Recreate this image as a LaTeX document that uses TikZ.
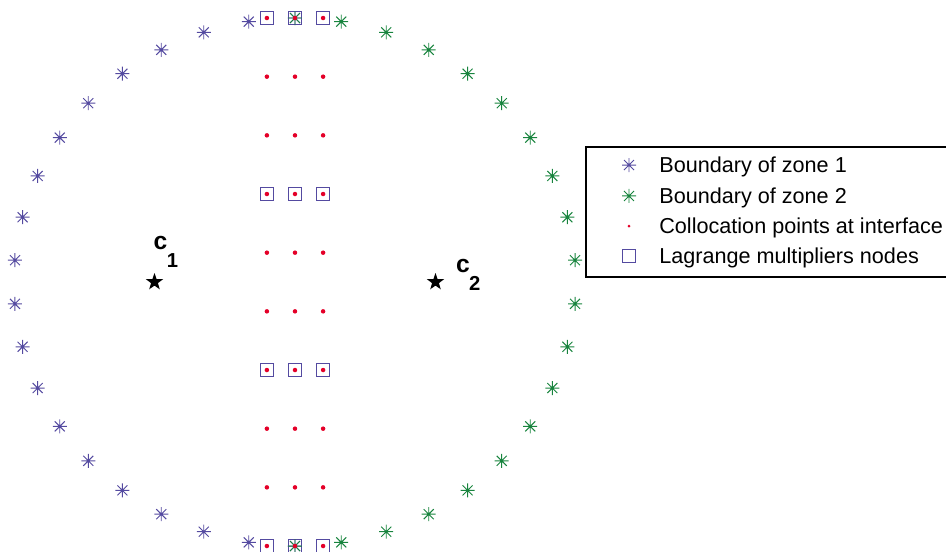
\documentclass[tikz,border=0pt]{standalone}
\usepackage{fontspec}
\setmainfont{Liberation Sans}
\usetikzlibrary{shapes.geometric}
\definecolor{zblue}{RGB}{84,74,160}
\definecolor{zgreen}{RGB}{24,132,62}
\definecolor{cred}{RGB}{228,0,40}
\newcommand{\clab}[1]{c\kern-0.3pt\raisebox{-0.36cm}{\fontsize{11.5}{13}\selectfont #1}}
\tikzset{
  ast/.pic={\draw[line width=0.55pt] (-0.14cm,0)--(0.14cm,0) (0,-0.14cm)--(0,0.14cm)
    (-0.1cm,-0.1cm)--(0.1cm,0.1cm) (-0.1cm,0.1cm)--(0.1cm,-0.1cm);},
  mult/.style={draw=zblue,line width=0.7pt,minimum size=0.26cm,inner sep=0pt},
  cdot/.style={fill=cred,circle,inner sep=0pt,minimum size=0.09cm},
  cstar/.style={star,star points=5,star point ratio=2.5,fill=black,inner sep=0pt,minimum size=0.36cm},
  leg/.style={anchor=west,font=\fontsize{12.3}{14}\selectfont,inner sep=0pt},
  clabel/.style={anchor=base west,font=\bfseries\fontsize{14}{16}\selectfont,inner sep=0pt},
}
\begin{document}
\begin{tikzpicture}[x=5.62cm,y=5.28cm]
	\useasboundingbox (-1.0498,-1.0189) rectangle (2.3167,1.0682);
	% lagrange multipliers
	\foreach \j in {0,3,6,9}
		\foreach \x [count=\i] in {-0.1,0,0.1}
			\node[mult] (m\j-\i) at (\x,{-1+\j*2/9}) {};
	% boundaries of both zones
	\foreach \k in {0,...,19}
		\pic[color=zblue] at ({90+\k*360/38}:1) {ast};
	\foreach \k in {0,...,19}
		\pic[color=zgreen] at ({90-\k*360/38}:1) {ast};
	% collocation points
	\foreach \j in {0,...,9}
		\foreach \x [count=\i] in {-0.1,0,0.1}
			\node[cdot] (p\j-\i) at (\x,{-1+\j*2/9}) {};
	% centres
	\node[cstar] (c1) at (-0.5,0) {};
	\node[cstar] (c2) at (0.5,0) {};
	\node[clabel] (c1l) at (-0.504,0.125) {\clab{1}};
	\node[clabel] (c2l) at (0.572,0.035) {\clab{2}};
	% legend
	\draw[line width=0.8pt] (1.036,0.019) rectangle (2.34,0.511);
	\pic[color=zblue] at (1.1886,0.443) {ast};
	\pic[color=zgreen] at (1.1886,0.326) {ast};
	\node[cdot,minimum size=0.06cm] (ld) at (1.1886,0.212) {};
	\node[mult] (lm) at (1.1886,0.098) {};
	\node[leg] (l1) at (1.2954,0.437) {Boundary of zone 1};
	\node[leg] (l2) at (1.2954,0.320) {Boundary of zone 2};
	\node[leg] (l3) at (1.2954,0.206) {Collocation points at interface};
	\node[leg] (l4) at (1.2954,0.092) {Lagrange multipliers nodes};
\end{tikzpicture}
\end{document}
